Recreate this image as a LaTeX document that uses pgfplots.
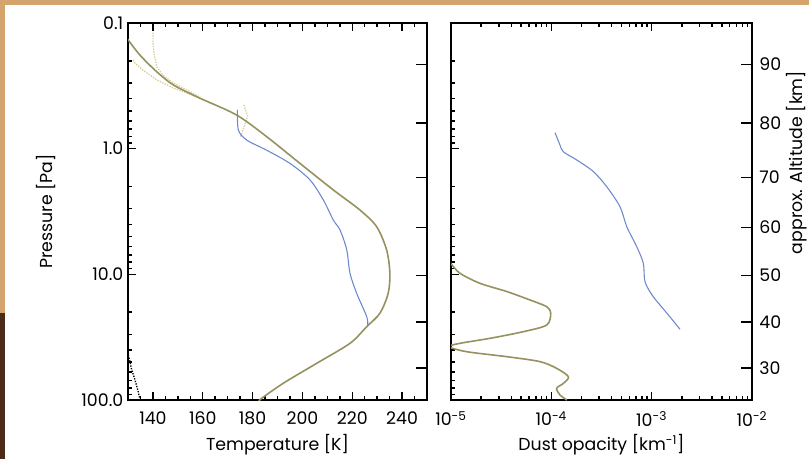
\documentclass[border=0pt]{standalone}
\usepackage{pgfplots}
\pgfplotsset{compat=1.18}
\usepackage{fontspec}
\setmainfont{Poppins}
\definecolor{tanb}{RGB}{212,164,108}
\definecolor{dbrown}{RGB}{76,44,24}
\definecolor{oliveL}{RGB}{150,146,96}
\definecolor{lblue}{RGB}{110,135,205}
\definecolor{ldot}{RGB}{215,205,150}
\pgfplotsset{
  mypanel/.style={scale only axis, height=282.75pt,
    axis line style={line width=1.8pt, line cap=rect},
    tick style={line width=1.1pt, color=black},
    tick label style={font=\fontsize{13}{15}\selectfont},
    label style={font=\fontsize{13}{15}\selectfont}},
}
\begin{document}
\begin{tikzpicture}
\useasboundingbox (0,0) rectangle (606.75pt,344.25pt);
\fill[white] (0,0) rectangle (606.75pt,344.25pt);
\fill[tanb] (0,340.5pt) rectangle (606.75pt,344.25pt);
\fill[tanb] (0,109.5pt) rectangle (3.75pt,344.25pt);
\fill[dbrown] (0,0) rectangle (3.75pt,109.5pt);

% ---------- left panel ----------
\begin{axis}[mypanel, width=224.25pt, at={(96pt,44.25pt)}, anchor=south west,
  ymode=log, y dir=reverse, ymin=0.1, ymax=100, xmin=130, xmax=250,
  axis x line*=bottom, axis y line*=left,
  tick align=inside, major tick length=6pt, minor tick length=3pt,
  xtick={140,160,180,200,220,240}, minor xtick={130,135,...,250},
  xticklabels={140,160,180,200,220,240},
  ytick={0.1,1,10,100},
  minor ytick={0.2,0.3,0.4,0.5,0.6,0.7,0.8,0.9,2,3,4,5,6,7,8,9,20,30,40,50,60,70,80,90},
  yticklabels={0.1,1.0,10.0,100.0},
  xticklabel style={yshift=-5pt},
  xlabel={Temperature [K]}, ylabel={Pressure [Pa]},
  xlabel style={at={(axis description cs:0.5,-0.119)}, anchor=center},
  ylabel style={at={(axis description cs:-0.274,0.5)}, anchor=center},
]
\addplot[ldot, densely dotted, line width=1pt] coordinates {
 (140.0,0.108) (140.0,0.142) (140.4,0.173) (141.6,0.224) (144.0,0.259) (148.1,0.300) (153.7,0.341) (159,0.39)};
\addplot[ldot, densely dotted, line width=1pt] coordinates {
 (132.0,0.197) (132.8,0.208) (136.0,0.237) (141.6,0.284) (148.1,0.329) (153.7,0.360) (159,0.40)};
\addplot[ldot, densely dotted, line width=1pt] coordinates {
 (176.5,0.45) (178,0.55) (176.5,0.68) (175,0.82)};
\addplot[black, densely dotted, line width=1pt] coordinates {
 (130.1,43.9) (130.8,49.5) (131.5,57.7) (132.4,65.3) (133.2,73.7) (134.1,85.9) (134.8,100)};
\addplot[oliveL, line width=1.2pt, smooth] coordinates {
 (129.0,0.125) (129.9,0.135) (134.8,0.180) (141.5,0.244) (148.2,0.311) (158.9,0.397)
 (173.6,0.540) (185.7,0.804) (199.0,1.31) (212.4,2.13) (223.1,3.08) (229.8,4.18)
 (233.8,6.40) (235.1,9.82) (234.4,14.2) (231.1,20.4) (225.8,26.1) (219.1,35.4)
 (205.7,51.1) (192.3,73.6) (183.7,96.8) (182.6,102)};
\addplot[lblue, line width=0.8pt, smooth] coordinates {
 (173.9,0.492) (174.3,0.710) (177.6,0.853) (185.7,1.03) (195.0,1.31) (203.0,1.77)
 (208.4,2.56) (212.4,3.70) (215.1,4.44) (217.8,6.40) (219.1,9.82) (221.8,14.2)
 (225.8,21.7) (226.2,25.3)};
\end{axis}
\begin{axis}[mypanel, width=224.25pt, at={(96pt,44.25pt)}, anchor=south west,
  ymode=log, y dir=reverse, ymin=0.1, ymax=100, xmin=130, xmax=250,
  hide y axis, axis x line*=top,
  tick align=inside, major tick length=6pt, minor tick length=3pt,
  xtick={140,160,180,200,220,240}, minor xtick={130,135,...,250}, xticklabels={}]
\addplot[draw=none] coordinates {(200,1)};
\end{axis}
\begin{axis}[mypanel, width=224.25pt, at={(96pt,44.25pt)}, anchor=south west,
  ymode=log, y dir=reverse, ymin=0.1, ymax=100, xmin=130, xmax=250,
  hide x axis, axis y line*=right,
  tick align=inside, major tick length=8pt, minor tick length=3pt,
  ytick={0.214,0.625,1.69,4.24,10.2,23.9,55.6}, minor ytick={},
  yticklabels={}]
\addplot[draw=none] coordinates {(200,1)};
\end{axis}

% ---------- right panel ----------
\begin{axis}[mypanel, width=225.75pt, at={(338.25pt,44.25pt)}, anchor=south west,
  ymode=log, y dir=reverse, ymin=0.1, ymax=100,
  xmode=log, xmin=1e-5, xmax=1e-2,
  axis x line*=bottom, axis y line*=left,
  tick align=inside, major tick length=6pt, minor tick length=3pt,
  xtick={1e-5,1e-4,1e-3,1e-2},
  minor xtick={2e-5,3e-5,4e-5,5e-5,6e-5,7e-5,8e-5,9e-5,2e-4,3e-4,4e-4,5e-4,6e-4,7e-4,8e-4,9e-4,2e-3,3e-3,4e-3,5e-3,6e-3,7e-3,8e-3,9e-3},
  xticklabels={10\textsuperscript{-5},10\textsuperscript{-4},10\textsuperscript{-3},10\textsuperscript{-2}},
  ytick={0.1,1,10,100},
  minor ytick={0.2,0.3,0.4,0.5,0.6,0.7,0.8,0.9,2,3,4,5,6,7,8,9,20,30,40,50,60,70,80,90},
  yticklabels={},
  xticklabel style={yshift=-5pt},
  xlabel={Dust opacity [km\textsuperscript{-1}]},
  xlabel style={at={(axis description cs:0.5,-0.119)}, anchor=center},
]
\addplot[oliveL, line width=1.2pt, smooth] coordinates {
 (7.5e-6,7.4) (9.8e-6,8.17) (1.23e-5,9.82) (1.95e-5,11.8) (3.59e-5,13.7) (6.13e-5,16.0)
 (9.0e-5,18.1) (9.86e-5,20.4) (9.0e-5,25.3) (5.26e-5,28.6) (2.45e-5,32.3) (1.23e-5,35.4)
 (9.6e-6,37.7) (1.44e-5,41.3) (3.59e-5,45.2) (7.7e-5,49.5) (1.13e-4,56.0) (1.48e-4,65.3)
 (1.32e-4,73.7) (1.13e-4,80.7) (1.22e-4,91.2) (1.43e-4,100)};
\addplot[lblue, line width=0.8pt, smooth] coordinates {
 (1.09e-4,0.746) (1.13e-4,0.804) (1.22e-4,0.936) (1.32e-4,1.06) (1.79e-4,1.23)
 (2.62e-4,1.52) (3.57e-4,2.01) (4.84e-4,2.90) (5.65e-4,4.18) (7.10e-4,6.03)
 (8.26e-4,8.17) (8.59e-4,11.5) (1.04e-3,15.1) (1.42e-3,20.4) (1.92e-3,27.4)};
\end{axis}
\begin{axis}[mypanel, width=225.75pt, at={(338.25pt,44.25pt)}, anchor=south west,
  ymode=log, y dir=reverse, ymin=0.1, ymax=100,
  xmode=log, xmin=1e-5, xmax=1e-2,
  hide y axis, axis x line*=top,
  tick align=inside, major tick length=6pt, minor tick length=3pt,
  xtick={1e-5,1e-4,1e-3,1e-2},
  minor xtick={2e-5,3e-5,4e-5,5e-5,6e-5,7e-5,8e-5,9e-5,2e-4,3e-4,4e-4,5e-4,6e-4,7e-4,8e-4,9e-4,2e-3,3e-3,4e-3,5e-3,6e-3,7e-3,8e-3,9e-3},
  xticklabels={}]
\addplot[draw=none] coordinates {(1e-3,1)};
\end{axis}
\begin{axis}[mypanel, width=225.75pt, at={(338.25pt,44.25pt)}, anchor=south west,
  ymode=log, y dir=reverse, ymin=0.1, ymax=100,
  xmode=log, xmin=1e-5, xmax=1e-2,
  hide x axis, axis y line*=right,
  tick align=inside, major tick length=8pt, minor tick length=3pt,
  ytick={0.214,0.625,1.69,4.24,10.2,23.9,55.6}, minor ytick={},
  yticklabels={90,80,70,60,50,40,30},
  yticklabel style={xshift=2pt},
  ylabel={approx. Altitude [km]},
  ylabel style={at={(axis description cs:1.15,0.63)}, anchor=center},
]
\addplot[draw=none] coordinates {(1e-3,1)};
\end{axis}
\end{tikzpicture}
\end{document}
